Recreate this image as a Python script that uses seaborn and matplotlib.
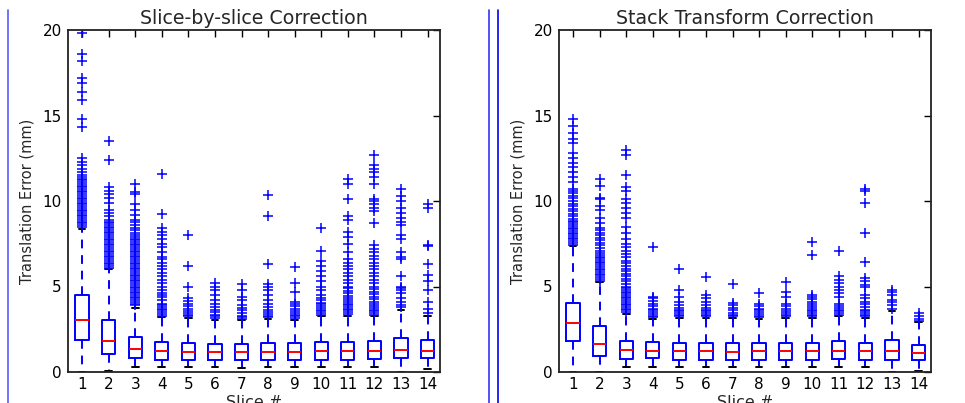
import numpy as np
import pandas as pd
import seaborn as sns
import matplotlib
matplotlib.use("Agg")
import matplotlib.pyplot as plt
from matplotlib.lines import Line2D

# ---------------- data ----------------
slices = ["1", "2", "3", "4", "5", "6", "7", "8", "9", "10", "11", "12", "13", "14"]

# Slice-by-slice correction: whisker low, Q1, median, Q3, whisker high
sbs_lo = [0.0, 0.05, 0.3, 0.3, 0.3, 0.3, 0.25, 0.3, 0.3, 0.3, 0.3, 0.3, 0.0, 0.2]
sbs_q1 = [1.86, 1.08, 0.82, 0.72, 0.73, 0.73, 0.70, 0.72, 0.73, 0.72, 0.73, 0.78, 0.82, 0.82]
sbs_med = [3.05, 1.84, 1.35, 1.21, 1.18, 1.15, 1.15, 1.17, 1.17, 1.21, 1.20, 1.22, 1.31, 1.25]
sbs_q3 = [4.48, 3.07, 2.04, 1.74, 1.70, 1.66, 1.66, 1.68, 1.68, 1.76, 1.78, 1.80, 1.96, 1.86]
sbs_hi = [8.35, 6.0, 3.75, 3.2, 3.1, 3.0, 3.05, 3.1, 3.05, 3.25, 3.3, 3.3, 3.6, 3.3]
sbs_fliers = [
    [8.5, 8.6, 8.7, 8.8, 8.9, 9.0, 9.1, 9.2, 9.3, 9.4, 9.5, 9.6, 9.7, 9.8, 9.9, 10.0,
     10.1, 10.2, 10.3, 10.4, 10.5, 10.6, 10.7, 10.8, 10.9, 11.0, 11.1, 11.2, 11.3, 11.4,
     11.5, 11.7, 11.9, 12.1, 12.3, 12.5, 14.3, 14.8, 15.9, 16.4, 16.9, 17.2, 18.2, 18.6, 19.8],
    [6.1, 6.2, 6.3, 6.4, 6.5, 6.6, 6.7, 6.8, 6.9, 7.0, 7.1, 7.2, 7.3, 7.4, 7.5, 7.6, 7.7,
     7.8, 7.9, 8.0, 8.1, 8.2, 8.3, 8.4, 8.5, 8.6, 8.7, 8.8, 8.9, 9.1, 9.3, 9.5, 9.9, 10.2,
     10.4, 10.6, 10.8, 12.4, 13.5],
    [3.9, 4.0, 4.1, 4.2, 4.3, 4.4, 4.5, 4.6, 4.7, 4.8, 4.9, 5.0, 5.1, 5.2, 5.3, 5.4, 5.5,
     5.6, 5.7, 5.8, 5.9, 6.0, 6.1, 6.2, 6.3, 6.4, 6.5, 6.6, 6.7, 6.8, 6.9, 7.0, 7.1, 7.2,
     7.3, 7.4, 7.5, 7.6, 7.7, 7.8, 7.9, 8.0, 8.15, 8.3, 8.45, 8.6, 8.75, 8.9, 9.2, 9.5,
     9.8, 10.4, 10.5, 11.0],
    [3.3, 3.4, 3.5, 3.6, 3.7, 3.8, 3.9, 4.0, 4.2, 4.4, 4.5, 4.6, 4.8, 5.0, 5.2, 5.4, 5.6,
     5.8, 6.0, 6.2, 6.4, 6.6, 6.7, 7.0, 7.3, 7.5, 7.8, 8.0, 8.2, 8.4, 9.25, 11.55],
    [3.15, 3.25, 3.35, 3.45, 3.55, 3.7, 3.85, 4.0, 4.15, 4.3, 4.95, 6.2, 8.0],
    [3.05, 3.15, 3.25, 3.35, 3.5, 3.65, 3.8, 4.0, 4.2, 4.5, 4.8, 5.0, 5.2],
    [3.1, 3.2, 3.3, 3.45, 3.6, 3.75, 3.9, 4.2, 4.4, 4.8, 5.15],
    [3.2, 3.3, 3.4, 3.5, 3.65, 3.8, 4.0, 4.2, 4.5, 4.8, 5.0, 5.15, 6.3, 9.1, 10.35],
    [3.15, 3.25, 3.35, 3.45, 3.55, 3.7, 3.85, 4.0, 4.1, 4.7, 5.2, 6.15],
    [3.35, 3.45, 3.55, 3.65, 3.75, 3.85, 3.95, 4.05, 4.2, 4.35, 4.5, 4.8, 5.0, 5.3, 5.6,
     5.9, 6.2, 6.5, 7.1, 8.4],
    [3.4, 3.5, 3.6, 3.7, 3.8, 3.9, 4.0, 4.1, 4.2, 4.3, 4.45, 4.6, 4.75, 4.9, 5.0, 5.2,
     5.4, 5.6, 5.8, 6.0, 6.2, 6.4, 6.6, 7.0, 7.5, 7.9, 8.2, 8.9, 9.1, 10.1, 11.0, 11.3],
    [3.35, 3.45, 3.55, 3.65, 3.75, 3.85, 3.95, 4.1, 4.25, 4.4, 4.55, 4.7, 4.85, 5.0,
     5.2, 5.4, 5.6, 5.8, 6.0, 6.2, 6.4, 6.6, 6.8, 7.0, 7.2, 7.4, 8.7, 9.4, 9.6, 9.8,
     10.0, 10.1, 11.0, 11.4, 11.7, 11.9, 12.1, 12.7],
    [3.8, 3.9, 4.1, 4.3, 4.6, 4.8, 4.9, 5.0, 5.6, 6.6, 6.7, 7.0, 7.8, 8.0, 8.6, 8.8,
     9.0, 9.3, 9.6, 10.0, 10.3, 10.7],
    [3.45, 3.7, 4.1, 4.8, 5.3, 5.7, 6.3, 7.35, 7.45, 9.6, 9.85],
]

# Stack transform correction
stk_lo = [0.0, 0.0, 0.3, 0.3, 0.3, 0.3, 0.3, 0.3, 0.3, 0.3, 0.3, 0.3, 0.0, 0.05]
stk_q1 = [1.84, 0.96, 0.78, 0.80, 0.73, 0.73, 0.73, 0.72, 0.73, 0.73, 0.78, 0.73, 0.72, 0.68]
stk_med = [2.88, 1.64, 1.27, 1.22, 1.20, 1.20, 1.18, 1.21, 1.20, 1.20, 1.25, 1.21, 1.21, 1.12]
stk_q3 = [4.05, 2.68, 1.84, 1.74, 1.72, 1.72, 1.72, 1.70, 1.72, 1.72, 1.80, 1.72, 1.86, 1.60]
stk_hi = [7.35, 5.25, 3.4, 3.1, 3.15, 3.15, 3.15, 3.1, 3.15, 3.15, 3.3, 3.15, 3.55, 2.95]
stk_fliers = [
    [7.45, 7.55, 7.65, 7.75, 7.85, 7.95, 8.05, 8.15, 8.25, 8.35, 8.45, 8.55, 8.65, 8.75,
     8.85, 8.95, 9.1, 9.25, 9.4, 9.55, 9.7, 9.85, 10.0, 10.15, 10.3, 10.45, 10.6, 10.7,
     11.1, 11.4, 11.7, 12.0, 12.2, 12.5, 12.8, 13.4, 13.6, 14.0, 14.4, 14.8],
    [5.35, 5.45, 5.55, 5.65, 5.75, 5.85, 5.95, 6.05, 6.15, 6.25, 6.35, 6.45, 6.55, 6.65,
     6.75, 6.85, 6.95, 7.1, 7.25, 7.4, 7.55, 7.7, 7.85, 8.0, 8.15, 8.3, 8.45, 8.7, 9.0,
     9.5, 9.7, 10.1, 10.2, 10.9, 11.3],
    [3.5, 3.6, 3.7, 3.8, 3.9, 4.0, 4.1, 4.2, 4.3, 4.4, 4.5, 4.6, 4.7, 4.8, 4.9, 5.0,
     5.15, 5.3, 5.45, 5.6, 5.75, 5.9, 6.05, 6.2, 6.35, 6.5, 6.7, 6.9, 7.1, 7.3, 7.5, 7.8,
     8.1, 8.5, 9.0, 9.3, 9.6, 9.9, 10.1, 10.6, 10.8, 11.5, 12.7, 13.0],
    [3.2, 3.3, 3.4, 3.5, 3.6, 3.7, 3.85, 4.0, 4.15, 4.3, 4.4, 7.3],
    [3.25, 3.35, 3.45, 3.55, 3.65, 3.75, 3.9, 4.1, 4.4, 4.8, 6.05],
    [3.25, 3.35, 3.45, 3.55, 3.65, 3.75, 3.9, 4.1, 4.3, 4.5, 5.55],
    [3.25, 3.35, 3.45, 3.6, 3.75, 3.9, 4.05, 5.15],
    [3.2, 3.3, 3.4, 3.5, 3.6, 3.7, 3.85, 4.0, 4.6],
    [3.25, 3.35, 3.45, 3.55, 3.7, 3.85, 4.0, 4.4, 4.7, 5.25],
    [3.25, 3.35, 3.45, 3.55, 3.65, 3.75, 3.85, 3.95, 4.1, 4.25, 4.4, 4.5, 6.85, 7.6],
    [3.35, 3.45, 3.55, 3.65, 3.75, 3.85, 3.95, 4.4, 4.6, 4.8, 5.0, 5.2, 5.4, 5.6, 7.05],
    [3.25, 3.35, 3.45, 3.55, 3.65, 3.8, 3.95, 4.1, 4.3, 4.5, 5.0, 5.1, 5.3, 5.5, 6.45,
     8.15, 9.9, 10.6, 10.7],
    [3.7, 3.9, 4.1, 4.2, 4.5, 4.7, 4.8],
    [3.0, 3.1, 3.3, 3.45],
]

titles = ["Slice-by-slice Correction", "Stack Transform Correction"]
yticks = [0, 5, 10, 15, 20]


def sample_from_stats(lo, q1, med, q3, hi, fl):
    m = len(fl) + 1
    return [lo] + [q1] * m + [med] * m + [q3] * m + [hi] + list(fl)


def build_frame(lo, q1, med, q3, hi, fliers):
    rows = []
    for i, s in enumerate(slices):
        for v in sample_from_stats(lo[i], q1[i], med[i], q3[i], hi[i], fliers[i]):
            rows.append((s, v))
    return pd.DataFrame(rows, columns=["slice", "err"])


frames = [
    build_frame(sbs_lo, sbs_q1, sbs_med, sbs_q3, sbs_hi, sbs_fliers),
    build_frame(stk_lo, stk_q1, stk_med, stk_q3, stk_hi, stk_fliers),
]

# ---------------- plotting ----------------
sns.set_style("white")
plt.rcParams["font.family"] = ["DejaVu Sans"]

W, H = 965, 403
fig = plt.figure(figsize=(W / 100, H / 100), dpi=100)
ax_rects = [
    [68 / W, (H - 372) / H, 372 / W, 342 / H],
    [559 / W, (H - 372) / H, 372 / W, 342 / H],
]

for k in range(2):
    ax = fig.add_axes(ax_rects[k])
    sns.boxplot(
        data=frames[k], x="slice", y="err", order=slices, ax=ax,
        width=0.5, fill=False, color="blue", linewidth=1.4, whis=1.5,
        boxprops=dict(color="blue"),
        medianprops=dict(color="red"),
        whiskerprops=dict(color="blue", linestyle=(0, (4.5, 3.5))),
        capprops=dict(color="black"),
        flierprops=dict(marker="+", markeredgecolor="blue", markerfacecolor="blue",
                        markersize=7.5, markeredgewidth=1.1),
    )
    ax.set_ylim(0, 20)
    ax.set_xlim(-0.53, 13.47)
    ax.set_yticks(yticks)
    ax.set_yticklabels([str(t) for t in yticks])
    ax.tick_params(direction="in", top=True, right=True, length=5, width=1,
                   labelsize=11, pad=4.5, colors="black")
    ax.tick_params(axis="x", pad=3.5)
    for sp in ax.spines.values():
        sp.set_linewidth(1.3)
        sp.set_color("#222222")
        sp.set_visible(True)
    ax.set_title(titles[k], fontsize=13.7, pad=4)
    ax.set_xlabel("Slice #", fontsize=11.5, labelpad=2)
    ax.set_ylabel("Translation Error (mm)", fontsize=10.5, labelpad=6)

# decorative vertical border lines seen in the reference image
for xp, col in [(7.5, "#5a5aff"), (489, "#3333ff"), (498, "#0000ee")]:
    fig.add_artist(Line2D([xp / W, xp / W], [0, 1 - 10 / H], transform=fig.transFigure,
                          color=col, linewidth=1.2))

fig.savefig("out.png", dpi=100)
